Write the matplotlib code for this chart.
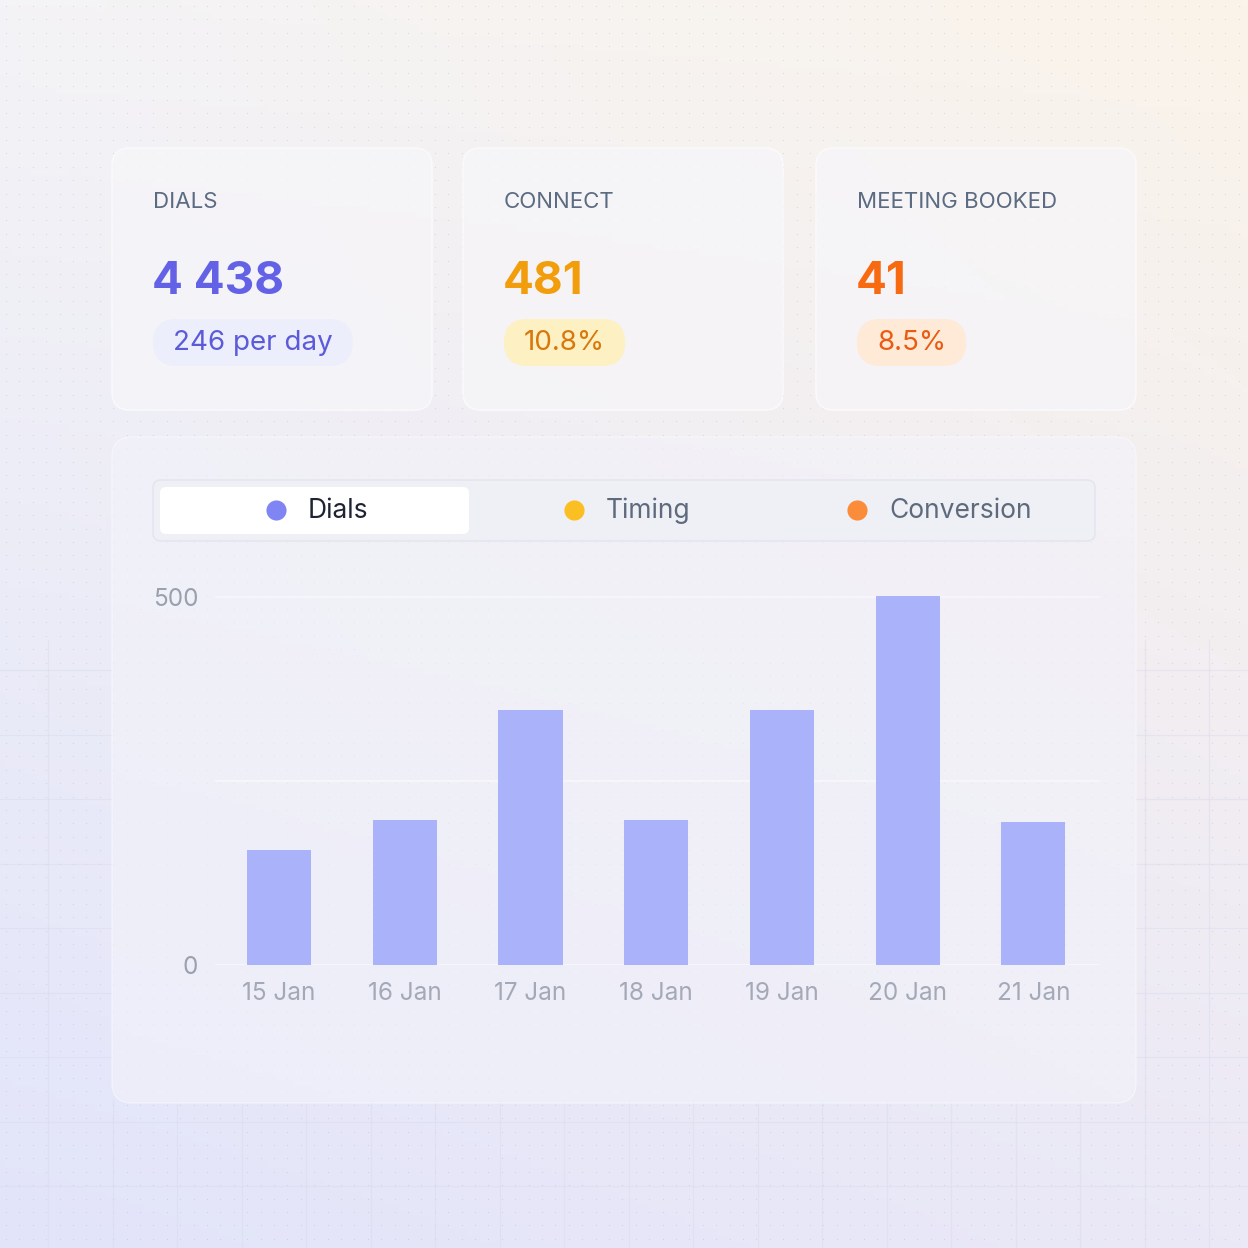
import matplotlib
matplotlib.use("Agg")
import matplotlib.pyplot as plt
from matplotlib.patches import FancyBboxPatch
import numpy as np

#-----------------DONNEES-----------------#

jours = ["15 Jan", "16 Jan", "17 Jan", "18 Jan", "19 Jan", "20 Jan", "21 Jan"]
appels = [156, 197, 347, 197, 347, 502, 194]
graduations = [0, 500]

titres = ["DIALS", "CONNECT", "MEETING BOOKED"]
valeurs = ["4 438", "481", "41"]
badges = ["246 per day", "10.8%", "8.5%"]
legende = ["Dials", "Timing", "Conversion"]

#-----------------STYLE-----------------#

plt.rcParams['font.family'] = ['Inter', 'DejaVu Sans']

W = H = 1248
couleurs_valeurs = ['#6361e6', '#f29d0c', '#f86a12']
couleurs_badges = ['#eceefb', '#fdf0c2', '#feead6']
couleurs_txt_badges = ['#5b5bd9', '#d9780a', '#ea5a10']
couleurs_legende = ['#8085f4', '#fbbf24', '#fb8c3a']
couleurs_txt_legende = ['#1f2433', '#5f6b7d', '#5f6b7d']
x_cartes = [112, 463, 816]
x_legende = [276, 574, 857]


def hex2rgb(h):
    h = h.lstrip('#')
    return np.array([int(h[i:i + 2], 16) / 255 for i in (0, 2, 4)])


fig = plt.figure(figsize=(12.48, 12.48), dpi=100)
bg = fig.add_axes([0, 0, 1, 1])
bg.set_xlim(0, W)
bg.set_ylim(H, 0)
bg.axis('off')

# fond en degrade
hg, hd, bgc, bd = [hex2rgb(c) for c in ('#f4f3f6', '#fbf4ea', '#e2e4fa', '#ebe9f7')]
u = np.linspace(0, 1, 200)
U, V = np.meshgrid(u, u)
U, V = U[..., None], V[..., None]
img = (1 - U) * (1 - V) * hg + U * (1 - V) * hd + (1 - U) * V * bgc + U * V * bd
bg.imshow(img, extent=[0, W, H, 0], aspect='auto', zorder=0)

# petits points du fond
gx, gy = np.meshgrid(np.arange(6, W, 13.4), np.arange(6, H, 13.4))
bg.scatter(gx.ravel(), gy.ravel(), s=0.7, color='#bcbccc', alpha=0.5, lw=0, zorder=1)

# quadrillage leger sur les bords et en bas
trait = dict(color='#d6d8ea', lw=0.9, alpha=0.4, zorder=1)
for xv in np.arange(48, W, 64.5):
    if xv < 112 or xv > 1136:
        bg.plot([xv, xv], [640, H], **trait)
    else:
        bg.plot([xv, xv], [1100, H], **trait)
for yv in np.arange(670, H, 64.5):
    if yv > 1100:
        bg.plot([0, W], [yv, yv], **trait)
    else:
        bg.plot([0, 112], [yv, yv], **trait)
        bg.plot([1136, W], [yv, yv], **trait)


def pilule(x, y, w, h, r, fc, ec='none', alpha=1.0, lw=1.0, z=2):
    p = FancyBboxPatch((x, y), w, h, boxstyle="round,pad=0,rounding_size=%g" % r,
                       fc=fc, ec=ec, lw=lw, alpha=alpha, zorder=z)
    bg.add_patch(p)
    return p


#-----------------CARTES-----------------#

rend = fig.canvas.get_renderer()
inv = bg.transData.inverted()
for i in range(3):
    x0 = x_cartes[i]
    pilule(x0, 148, 320, 262, 18, '#f6f5f8', ec='#fbfbfd', alpha=0.8, lw=1.2)
    bg.text(x0 + 41, 202, titres[i], fontsize=16, color='#5b6b82', va='center', zorder=4)
    bg.text(x0 + 40, 282, valeurs[i], fontsize=33, fontweight='bold', color=couleurs_valeurs[i],
            va='center', zorder=4)
    t = bg.text(x0 + 61, 343, badges[i], fontsize=20, color=couleurs_txt_badges[i], va='center', zorder=4)
    bb = t.get_window_extent(rend)
    (xa, _), (xb, _) = inv.transform([[bb.x0, bb.y0], [bb.x1, bb.y1]])
    pilule(xa - 20, 319, (xb - xa) + 40, 47, 23.5, couleurs_badges[i], z=3)

#-----------------PANNEAU DU GRAPHIQUE-----------------#

pilule(112, 437, 1024, 666, 20, '#f3f3fa', ec='#f9f9fd', alpha=0.6, lw=1.0)

# legende facon onglets
pilule(153, 480, 942, 61, 8, '#eef0f6', ec='#e4e6ef', lw=1.2, z=3)
pilule(160, 487, 309, 47, 6, 'white', z=3)
for i in range(3):
    bg.scatter([x_legende[i]], [510], s=210, color=couleurs_legende[i], lw=0, zorder=5)
    bg.text(x_legende[i] + 32, 511, legende[i], fontsize=19, color=couleurs_txt_legende[i],
            va='center', zorder=5)

#-----------------BARRES-----------------#

px_unite = 368 / 500
ymax = 520
ax = fig.add_axes([215 / W, 1 - 965 / H, (1100 - 215) / W, ymax * px_unite / H])
ax.patch.set_alpha(0)
x = np.arange(len(jours))
ax.bar(x, appels, width=0.51, color='#aab2fa', zorder=3)
ax.set_xlim(-0.51, 6.53)
ax.set_ylim(0, ymax)
ax.set_xticks(x)
ax.set_xticklabels(jours)
ax.set_yticks(graduations)
ax.set_yticks([250], minor=True)
ax.grid(axis='y', which='both', color='#f6f6fb', lw=1.3, zorder=1)
ax.tick_params(axis='both', which='both', length=0, labelsize=17.5)
ax.tick_params(axis='y', colors='#9aa0ae', pad=12)
ax.tick_params(axis='x', colors='#a4a9b7', pad=12)
for s in ax.spines.values():
    s.set_visible(False)

plt.savefig("out.png", dpi=100)
